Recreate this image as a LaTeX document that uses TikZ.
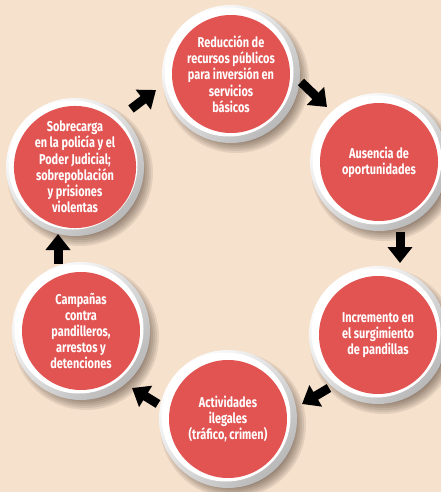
\documentclass[tikz,border=0pt]{standalone}
\usepackage{fontspec}
\setmainfont{Fira Sans}[FakeStretch=0.77]
\usetikzlibrary{arrows.meta,backgrounds}
\definecolor{bg}{RGB}{246,225,205}
\definecolor{cred}{RGB}{225,84,82}
\begin{document}
\begin{tikzpicture}[x=1pt,y=-1pt,
  cyc/.style={circle, fill=cred, minimum size=118pt, inner sep=0pt, text=white, align=center,
    font=\bfseries\fontsize{14.2}{16.2}\selectfont},
  blk/.style={line width=9pt, black, -{Triangle[length=16pt,width=24pt]}}]
\useasboundingbox (0,0) rectangle (441,492);
\clip (0,0) rectangle (441,492);
\node[cyc] (n1) at (231,74) {Reducción de\\recursos públicos\\para inversión en\\servicios\\básicos};
\node[cyc] (n2) at (379,162) {Ausencia de\\oportunidades};
\node[cyc] (n3) at (378,335) {Incremento en\\el surgimiento\\de pandillas};
\node[cyc] (n4) at (228,419) {Actividades\\ilegales\\(tráfico, crimen)};
\node[cyc] (n5) at (81,331) {Campañas\\contra\\pandilleros,\\arrestos y\\detenciones};
\node[cyc] (n6) at (75,167) {Sobrecarga\\en la policía y el\\Poder Judicial;\\sobrepoblación\\y prisiones\\violentas};
\begin{pgfonlayer}{background}
  \fill[bg] (0,0) rectangle (441,492);
  \foreach \n in {n1,n2,n3,n4,n5,n6} {
    \foreach \k in {0,...,7}
      \fill[black!80!brown, opacity=0.09] ([shift={(5,6)}]\n.center) circle ({73-2*\k});
  }
  \foreach \n in {n1,n2,n3,n4,n5,n6} {
    \shade[top color=white, bottom color=gray!55, shading angle=45] (\n.center) circle (69);
    \fill[white] ([shift={(-2,-2)}]\n.center) circle (64.5);
  }
\end{pgfonlayer}
\coordinate (a1s) at (301,82);  \coordinate (a1e) at (327,107);
\coordinate (a2s) at (400,232); \coordinate (a2e) at (400,263);
\coordinate (a3s) at (329,388); \coordinate (a3e) at (302,404);
\coordinate (a4s) at (158,404); \coordinate (a4e) at (132,388);
\coordinate (a5s) at (58,264);  \coordinate (a5e) at (58,234);
\coordinate (a6s) at (131,109); \coordinate (a6e) at (156,90);
\draw[blk] (a1s) -- (a1e);
\draw[blk] (a2s) -- (a2e);
\draw[blk] (a3s) -- (a3e);
\draw[blk] (a4s) -- (a4e);
\draw[blk] (a5s) -- (a5e);
\draw[blk] (a6s) -- (a6e);
\end{tikzpicture}
\end{document}
